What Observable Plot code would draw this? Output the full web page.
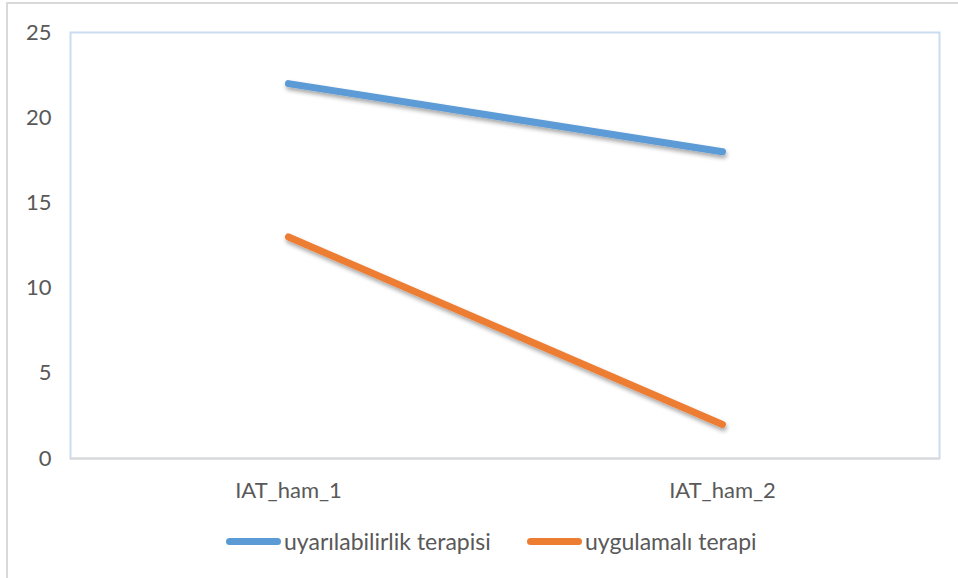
<!DOCTYPE html>
<html>
<head>
<meta charset="utf-8">
<script src="https://cdn.jsdelivr.net/npm/d3@7"></script>
<script src="https://cdn.jsdelivr.net/npm/@observablehq/plot@0.6"></script>
<style>
  html, body { margin: 0; padding: 0; background: #fff; }
  body { width: 958px; height: 578px; position: relative; overflow: hidden; font-family: Lato, "Open Sans", sans-serif; }
  #outer { position: absolute; left: 6px; top: 2px; width: 970px; height: 600px; border: 2px solid #d9d9d9; box-sizing: border-box; }
  #chart { position: absolute; left: 0; top: 0; }
  #legend { position: absolute; top: 527px; left: 0; width: 958px; height: 28px; color: #595959; font-size: 23px; }
  .item { position: absolute; top: 0; display: flex; align-items: center; height: 28px; }
  .swatch { width: 55px; height: 7px; border-radius: 4px; margin-right: 3px; }
</style>
</head>
<body>
<div id="outer"></div>
<div id="chart"></div>
<div id="legend"></div>
<script>
const categories = ["IAT_ham_1", "IAT_ham_2"];
const seriesNames = ["uyarılabilirlik terapisi", "uygulamalı terapi"];
const seriesColors = ["#5B9BD5", "#ED7D31"];
const valuesUyarilabilirlik = [22, 18];
const valuesUygulamali = [13, 2];
const yTicks = [0, 5, 10, 15, 20, 25];

const seriesValues = [valuesUyarilabilirlik, valuesUygulamali];
const data = [];
seriesNames.forEach((s, i) => categories.forEach((c, j) => data.push({series: s, cat: c, value: seriesValues[i][j]})));

const plot = Plot.plot({
  width: 958,
  height: 510,
  marginLeft: 70,
  marginRight: 19,
  marginTop: 32,
  marginBottom: 52,
  style: {fontFamily: "Lato, 'Open Sans', sans-serif", fontSize: "22px", color: "#595959", background: "transparent"},
  x: {type: "point", domain: categories, padding: 0.5, label: null, tickSize: 0, tickPadding: 24},
  y: {domain: [0, 25], ticks: yTicks, label: null, tickSize: 0, tickPadding: 19},
  color: {domain: seriesNames, range: seriesColors},
  marks: [
    Plot.frame({stroke: "#c9dcf0", strokeWidth: 2}),
    Plot.ruleY([0], {stroke: "#d9d9d9", strokeWidth: 2}),
    Plot.line(data, {x: "cat", y: "value", z: "series", stroke: "series", strokeWidth: 7, strokeLinecap: "round", strokeLinejoin: "round"})
  ]
});
document.getElementById("chart").appendChild(plot);

// drop shadow on the lines
const svg = d3.select(plot);
const defs = svg.insert("defs", ":first-child");
const f = defs.append("filter").attr("id", "shadow").attr("x", "-10%").attr("y", "-20%").attr("width", "120%").attr("height", "150%");
f.append("feDropShadow").attr("dx", 1).attr("dy", 3).attr("stdDeviation", 2).attr("flood-color", "#000").attr("flood-opacity", 0.35);
svg.selectAll("g[aria-label='line']").attr("filter", "url(#shadow)");

// legend
const legend = document.getElementById("legend");
const lefts = [226, 527];
seriesNames.forEach((s, i) => {
  const item = document.createElement("div");
  item.className = "item";
  item.style.left = lefts[i] + "px";
  const sw = document.createElement("div");
  sw.className = "swatch";
  sw.style.background = seriesColors[i];
  const t = document.createElement("span");
  t.textContent = s;
  item.appendChild(sw);
  item.appendChild(t);
  legend.appendChild(item);
});
</script>
</body>
</html>
